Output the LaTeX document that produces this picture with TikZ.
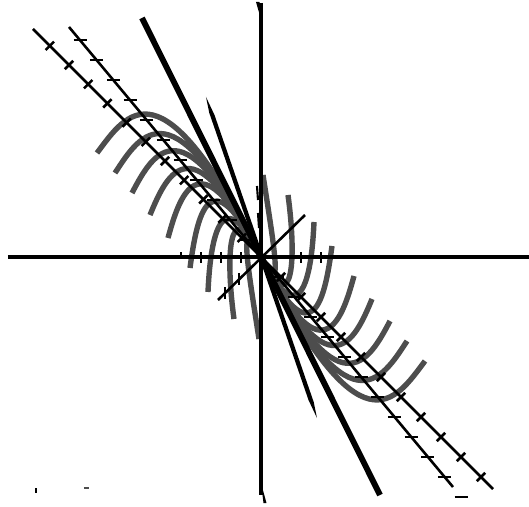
\documentclass[tikz,border=0pt]{standalone}
\usepackage{tikz}
\usetikzlibrary{calc}

\definecolor{arcgray}{RGB}{77,77,77}

\begin{document}
\begin{tikzpicture}[x=0.03cm, y=0.03cm,
	axis/.style={line width=2.6pt},
	heavy/.style={line width=5pt},
	guide/.style={line width=2.2pt},
	tickmark/.style={line width=2.2pt},
	curve/.style={line width=4.6pt, draw=arcgray}
]
	\useasboundingbox (-261,-250) rectangle (268,257);
	\coordinate (O) at (0,0);

	% arcs, upper left family and its point reflection
	\foreach \rot in {0,180}{
	\begin{scope}[rotate=\rot]
		\foreach \px/\py/\a/\c/\b in {-164/104/100/30/40, -146/84/88/26/40,
			-129/64/78/22/42, -111/42/68/18/44, -93/19/60/13/48, -71/-11/52/7/52,
			-53/-35/42/2/46, -27/-62/34/-8/58, -2/-82/23/-12/78}
			\draw[curve] (O) .. controls ({-\a},{2*\a}) and ({\px+\c},{\py+\b}) .. (\px,\py);
	\end{scope}}

	% axes
	\draw[axis] (-253,0) -- (268,0);
	\draw[axis] (0,254) -- (0,-238);
	\foreach \x in {-60,-40,-20,40,60}
		\draw[tickmark] (\x,-6) -- (\x,5);
	\draw[tickmark] (-80,0) -- (-80,5);
	\draw[tickmark] (81,0) -- (81,-2);

	% slanted strokes on the vertical axis
	\fill (-5,255) -- (-1.5,255) -- (0.5,236) -- cycle;
	\fill (0,-226) -- (5.5,-246) -- (2.5,-246) -- cycle;
	\draw[line width=1.8pt] (-4,71) -- (-3,57);
	\draw[line width=1.8pt] (-3,44) -- (-2,29);

	% line with crosses
	\draw[guide] (-228,228) -- (232,-232);
	\foreach \n in {1,...,11}{
		\draw[tickmark] ({-19.2*\n-4.2},{19.2*\n-4.2}) -- ({-19.2*\n+4.2},{19.2*\n+4.2});
		\draw[tickmark] ({20*\n-4.2},{-20*\n-4.2}) -- ({20*\n+4.2},{-20*\n+4.2});
	}

	% line with dashes
	\draw[guide] (-192,230) -- (192,-230);
	\foreach \n in {1,...,11}
		\draw[tickmark] ({-(20*\n-3)/1.2-6.5},{20*\n-3}) -- ({-(20*\n-3)/1.2+6.5},{20*\n-3});
	\foreach \n in {1,...,12}
		\draw[tickmark] ({20*\n/1.2-6.5},{-20*\n}) -- ({20*\n/1.2+6.5},{-20*\n});

	% short rising line
	\draw[guide] (-43,-43) -- (44,42);
	\foreach \x in {-36,-22}
		\draw[tickmark] (\x,{\x-6}) -- (\x,{\x+6});

	% steep tapered line
	\fill (-55,160) -- (-46.5,142) -- (52.7,-145) -- (56,-161) -- (47.5,-143) -- (-51.7,144) -- cycle;

	% heavy line
	\draw[heavy] (-119,239) -- (119,-238);

	% specks
	\fill (-226,-231) rectangle (-224,-236);
	\draw[arcgray, line width=1pt] (-177,-231) -- (-172,-231);
\end{tikzpicture}
\end{document}
